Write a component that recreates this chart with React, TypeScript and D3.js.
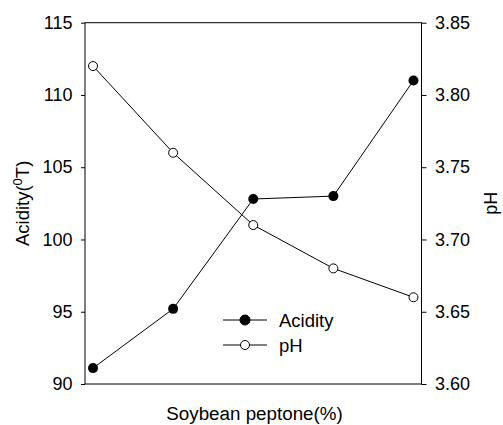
import React, { useEffect, useRef } from "react";
import * as d3 from "d3";

// Soybean peptone levels (x positions only; the axis carries no tick labels)
const levels = [0, 1, 2, 3, 4];
const acidity = [91.1, 95.2, 102.8, 103.0, 111.0];
const ph = [3.82, 3.76, 3.71, 3.68, 3.66];
const acidityTicks = [90, 95, 100, 105, 110, 115];
const phTicks = [3.6, 3.65, 3.7, 3.75, 3.8, 3.85];

const W = 503;
const H = 425;
const FONT = "'Liberation Sans', Arial, sans-serif";

export default function App() {
  const ref = useRef<SVGSVGElement>(null);

  useEffect(() => {
    const svg = d3.select(ref.current);
    svg.selectAll("*").remove();

    const left = 85, right = 421.5, top = 22.7, bottom = 384;

    const x = d3.scaleLinear().domain([-0.1, 4.1]).range([left, right]);
    const yL = d3.scaleLinear().domain([90, 115]).range([bottom, top]);
    const yR = d3.scaleLinear().domain([3.6, 3.85]).range([bottom, top]);

    // frame
    svg.append("rect")
      .attr("x", left).attr("y", top)
      .attr("width", right - left).attr("height", bottom - top)
      .attr("fill", "none").attr("stroke", "#000").attr("stroke-width", 1);

    const gL = svg.append("g").attr("transform", `translate(${left},0)`)
      .call(d3.axisLeft(yL).tickValues(acidityTicks).tickSize(4).tickPadding(8.5).tickFormat(d3.format("d")));
    const gR = svg.append("g").attr("transform", `translate(${right},0)`)
      .call(d3.axisRight(yR).tickValues(phTicks).tickSize(5).tickPadding(8.5).tickFormat(d3.format(".2f")));

    [gL, gR].forEach((g) => {
      g.select(".domain").remove();
      g.selectAll("line").attr("stroke", "#000");
      g.selectAll("text").attr("font-family", FONT).attr("font-size", 18).attr("fill", "#000");
    });

    const acidityLine = d3.line<number>().x((_, i) => x(levels[i])).y((d) => yL(d));
    const phLine = d3.line<number>().x((_, i) => x(levels[i])).y((d) => yR(d));

    svg.append("path")
      .attr("d", acidityLine(acidity) as string)
      .attr("fill", "none").attr("stroke", "#000").attr("stroke-width", 1);
    svg.append("path")
      .attr("d", phLine(ph) as string)
      .attr("fill", "none").attr("stroke", "#000").attr("stroke-width", 1);

    svg.selectAll("circle.ac").data(acidity).enter().append("circle")
      .attr("class", "ac")
      .attr("cx", (_, i) => x(levels[i])).attr("cy", (d) => yL(d))
      .attr("r", 5).attr("fill", "#000");
    svg.selectAll("circle.ph").data(ph).enter().append("circle")
      .attr("class", "ph")
      .attr("cx", (_, i) => x(levels[i])).attr("cy", (d) => yR(d))
      .attr("r", 4.5).attr("fill", "#fff").attr("stroke", "#000").attr("stroke-width", 1);

    // legend
    const legend = [
      { label: "Acidity", filled: true, y: 320 },
      { label: "pH", filled: false, y: 345 },
    ];
    legend.forEach((e) => {
      svg.append("line").attr("x1", 223).attr("x2", 267).attr("y1", e.y).attr("y2", e.y)
        .attr("stroke", "#000").attr("stroke-width", 1);
      svg.append("circle").attr("cx", 245).attr("cy", e.y).attr("r", e.filled ? 5 : 4.5)
        .attr("fill", e.filled ? "#000" : "#fff").attr("stroke", "#000").attr("stroke-width", 1);
      svg.append("text").attr("x", 279).attr("y", e.y + 6.5)
        .attr("font-family", FONT).attr("font-size", 18.5).text(e.label);
    });

    // axis titles
    svg.append("text").attr("x", 254.5).attr("y", 420)
      .attr("text-anchor", "middle").attr("font-family", FONT).attr("font-size", 18.8)
      .text("Soybean peptone(%)");

    const yt = svg.append("text")
      .attr("transform", `translate(29,${(top + bottom) / 2}) rotate(-90)`)
      .attr("text-anchor", "middle").attr("font-family", FONT).attr("font-size", 18.5);
    yt.append("tspan").text("Acidity(");
    yt.append("tspan").attr("font-size", 13).attr("dy", -7).text("0");
    yt.append("tspan").attr("dy", 7).text("T)");

    svg.append("text")
      .attr("transform", `translate(497,${(top + bottom) / 2}) rotate(-90)`)
      .attr("text-anchor", "middle").attr("font-family", FONT).attr("font-size", 18)
      .text("pH");
  }, []);

  return (
    <svg ref={ref} width={W} height={H} style={{ position: "absolute", left: 0, top: 0, background: "#fff" }} />
  );
}
